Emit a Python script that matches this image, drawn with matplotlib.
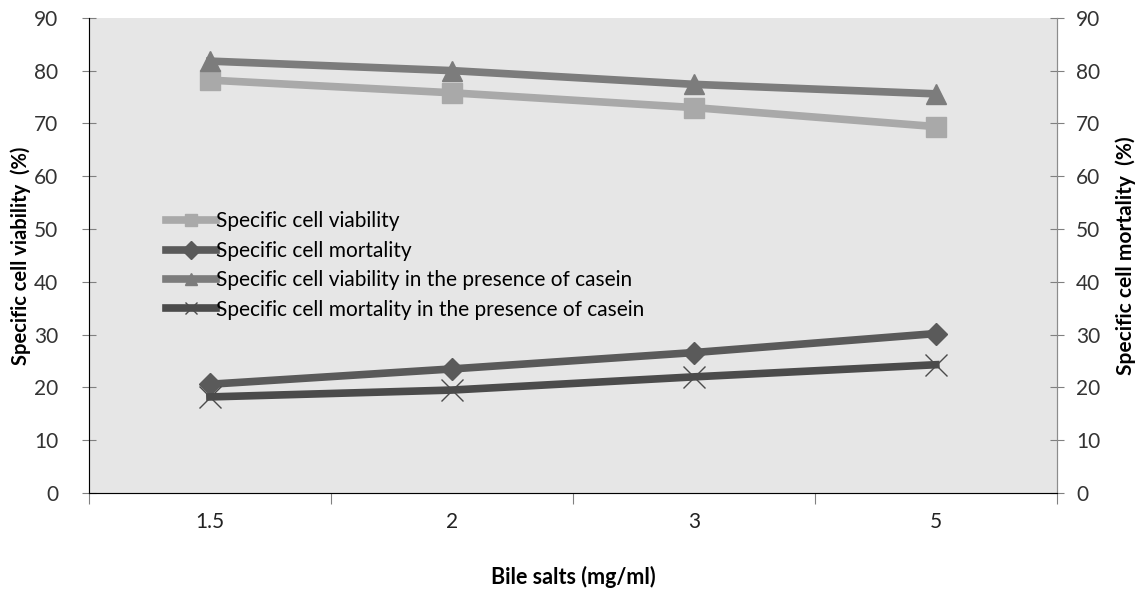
import matplotlib.pyplot as plt
import numpy as np

plt.rcParams['font.family'] = ['Lato', 'DejaVu Sans']

bile_salts = ['1.5', '2', '3', '5']
viability = [78.2, 75.8, 73.0, 69.4]
mortality = [20.6, 23.5, 26.6, 30.2]
viability_casein = [81.8, 80.0, 77.4, 75.6]
mortality_casein = [18.2, 19.5, 22.0, 24.3]

x = np.arange(len(bile_salts))

fig = plt.figure(figsize=(11.4, 5.94), dpi=100)
ax = fig.add_axes([0.078, 0.17, 0.849, 0.80])
ax.set_facecolor('#e6e6e6')

ax.plot(x, viability, color='#a9a9a9', lw=5.5, marker='s', ms=14,
        label='Specific cell viability')
ax.plot(x, mortality, color='#5a5a5a', lw=5.5, marker='D', ms=11,
        label='Specific cell mortality')
ax.plot(x, viability_casein, color='#7c7c7c', lw=5.5, marker='^', ms=15,
        label='Specific cell viability in the presence of casein')
ax.plot(x, mortality_casein, color='#4b4b4b', lw=5.5, marker='x', ms=16,
        mew=1, label='Specific cell mortality in the presence of casein')

ax.set_xlim(-0.5, len(bile_salts) - 0.5)
ax.set_ylim(0, 90)
ax.set_yticks(range(0, 91, 10))

# category boundaries as ticks, labels in the middle
ax.set_xticks(np.arange(-0.5, len(bile_salts), 1.0))
ax.set_xticklabels([])
ax.set_xticks(x, minor=True)
ax.set_xticklabels(bile_salts, minor=True)
ax.tick_params(axis='x', which='major', length=8, direction='out', color='#808080')
ax.tick_params(axis='x', which='minor', length=0, pad=14, labelsize=15,
               labelcolor='#222222')
ax.tick_params(axis='y', length=10, direction='inout', color='#808080',
               labelsize=15, pad=17, labelcolor='#333333')

ax.spines['top'].set_visible(False)
for s in ['left', 'right', 'bottom']:
    ax.spines[s].set_color('#8c8c8c')

ax2 = ax.twinx()
ax2.set_ylim(0, 90)
ax2.set_yticks(range(0, 91, 10))
ax2.tick_params(axis='y', length=10, direction='inout', color='#808080',
                labelsize=15, pad=9, labelcolor='#333333')
ax2.spines['top'].set_visible(False)
ax2.spines['right'].set_color('#8c8c8c')

ax.set_xlabel('Bile salts (mg/ml)', fontsize=15.5, fontweight='bold', labelpad=24)
ax.set_ylabel('Specific cell viability  (%)', fontsize=14.5, fontweight='bold', labelpad=2)
ax2.set_ylabel('Specific cell mortality  (%)', fontsize=15, fontweight='bold', labelpad=11)

leg = ax.legend(loc='upper left', bbox_to_anchor=(0.071, 0.61), frameon=False,
                fontsize=15, handlelength=2.4, handletextpad=0.0,
                labelspacing=0.45, borderaxespad=0)
for h in leg.legend_handles:
    h.set_markersize(9)

fig.savefig('out.png', dpi=100)
